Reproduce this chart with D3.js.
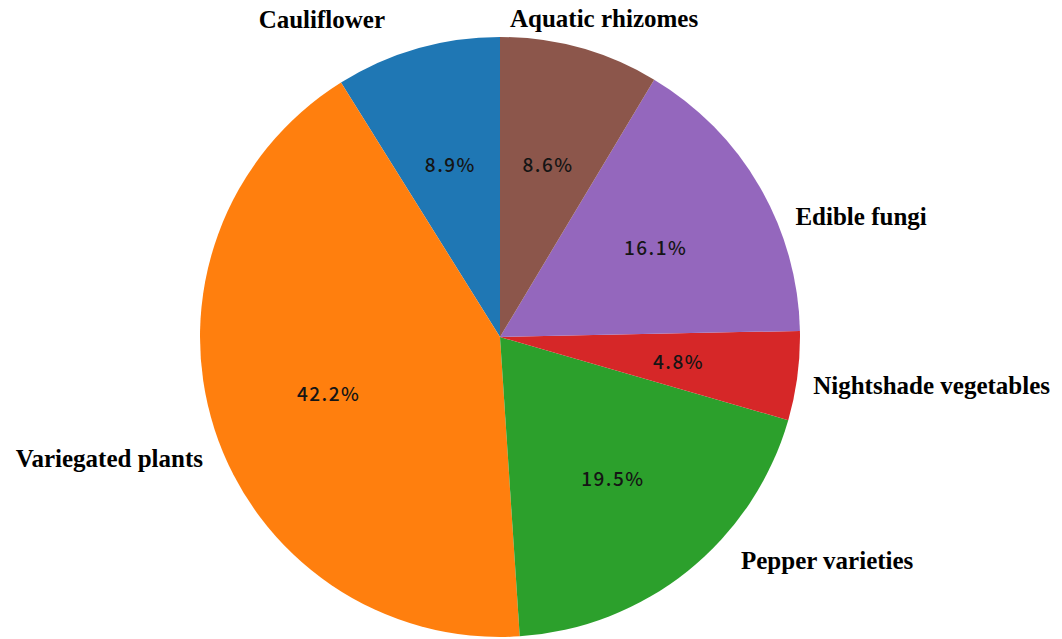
<!DOCTYPE html>
<html>
<head>
<meta charset="utf-8">
<script src="https://cdn.jsdelivr.net/npm/d3@7"></script>
<style>
  html, body { margin: 0; padding: 0; background: #fff; }
  .name { font-family: "Liberation Serif", "Times New Roman", serif; font-weight: bold; font-size: 25px; fill: #000; }
  .pct { font-family: "Noto Sans CJK SC", "DejaVu Sans", sans-serif; font-size: 19px; font-weight: 500; fill: #151515; }
</style>
</head>
<body>
<div id="chart"></div>
<script>
// counter-clockwise from 12 o'clock, like matplotlib with startangle=90
const categories = ["Cauliflower", "Variegated plants", "Pepper varieties", "Nightshade vegetables", "Edible fungi", "Aquatic rhizomes"];
const shares = [8.9, 42.2, 19.5, 4.8, 16.1, 8.6];
const colors = ["#1f77b4", "#ff7f0e", "#2ca02c", "#d62728", "#9467bd", "#8c564b"];

(function() {
  const width = 1062, height = 639;
  const cx = 500, cy = 337, radius = 300;

  // hand nudges so the names sit where the original put them
  const nudge = {
    "Cauliflower": [-24, 0],
    "Aquatic rhizomes": [-78, 0],
    "Edible fungi": [10, 45],
    "Nightshade vegetables": [-14, 6],
    "Pepper varieties": [34, -34],
    "Variegated plants": [17, 20]
  };

  const svg = d3.select("#chart").append("svg").attr("width", width).attr("height", height);
  const g = svg.append("g").attr("transform", `translate(${cx},${cy})`);

  const data = categories.map((c, i) => ({ name: c, value: shares[i], color: colors[i] }));

  // d3 angles go clockwise, so negate to go counter-clockwise from the top
  const pie = d3.pie().value(d => d.value).sort(null)
      .startAngle(0).endAngle(-2 * Math.PI);
  const arcs = pie(data);

  const arc = d3.arc().innerRadius(0).outerRadius(radius);
  const pctArc = d3.arc().innerRadius(radius * 0.6).outerRadius(radius * 0.6);
  const nameArc = d3.arc().innerRadius(radius * 1.1).outerRadius(radius * 1.1);

  g.selectAll("path.slice").data(arcs).enter().append("path")
      .attr("class", "slice")
      .attr("d", arc)
      .attr("fill", d => d.data.color);

  g.selectAll("text.pct").data(arcs).enter().append("text")
      .attr("class", "pct")
      .attr("transform", d => `translate(${pctArc.centroid(d)})`)
      .attr("text-anchor", "middle")
      .attr("dominant-baseline", "central")
      .attr("letter-spacing", "1.5")
      .text(d => d.data.value.toFixed(1) + "%");

  g.selectAll("text.name").data(arcs).enter().append("text")
      .attr("class", "name")
      .each(function(d) {
        let p = nameArc.centroid(d);
        let n = nudge[d.data.name] || [0, 0];
        d3.select(this)
          .attr("x", p[0] + n[0])
          .attr("y", p[1] + n[1])
          .attr("text-anchor", p[0] < 0 ? "end" : "start")
          .attr("dominant-baseline", "central");
      })
      .text(d => d.data.name);
})();
</script>
</body>
</html>
